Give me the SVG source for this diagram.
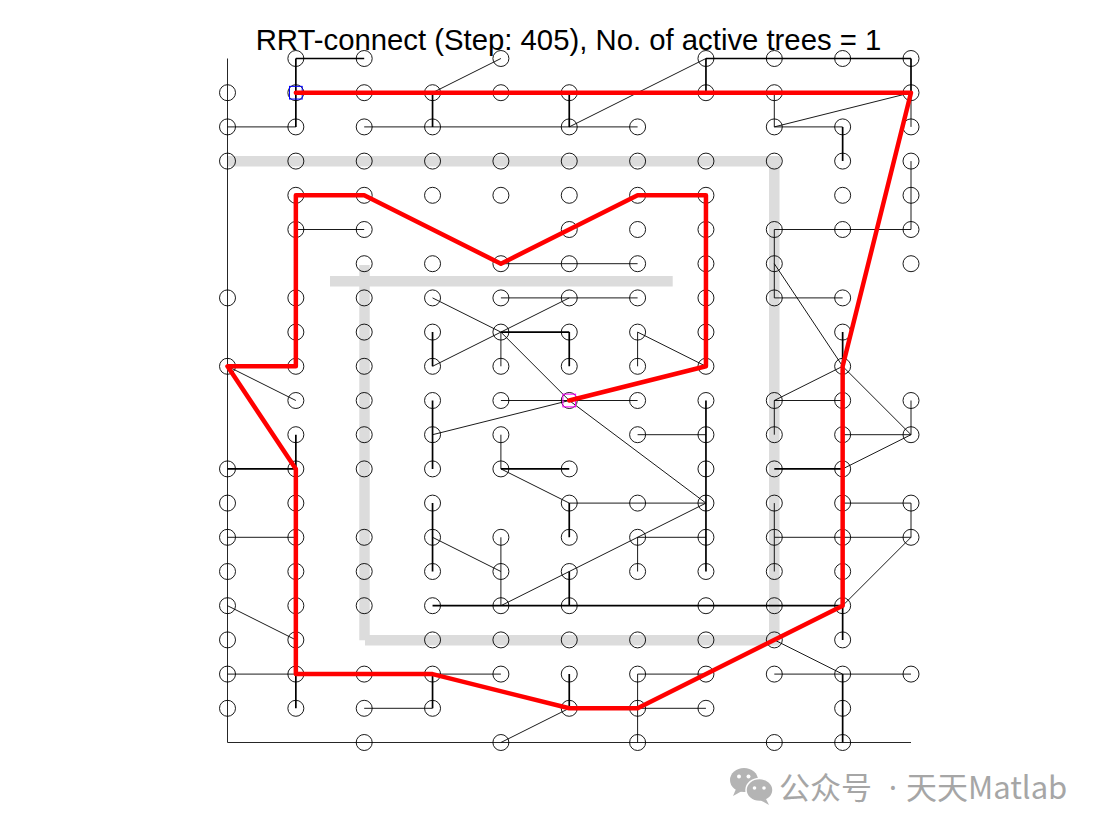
<svg xmlns="http://www.w3.org/2000/svg" width="1105" height="831" viewBox="0 0 1105 831">
<style>
.obs{stroke:#dcdcdc;stroke-width:10.5;fill:none;stroke-linecap:butt}
.ax{stroke:#262626;stroke-width:1;fill:none}
.k{stroke:#000;stroke-width:1.7;fill:none}
.t{stroke:#000;stroke-width:0.9;fill:none}
.nd circle{fill:none;stroke:#000;stroke-width:0.9}
.path{stroke:#ff0000;stroke-width:4.5;fill:none;stroke-linejoin:round;stroke-linecap:round}
.title{font-family:"Liberation Sans",Arial,sans-serif;font-size:29.3px;fill:#000}
.wm{font-family:"Noto Sans CJK SC","Noto Sans",sans-serif;font-size:31px;fill:#a6a6a6}
</style>
<rect width="1105" height="831" fill="#fff"/>
<text class="title" x="568.5" y="50" text-anchor="middle">RRT-connect (Step: 405), No. of active trees = 1</text>
<g id="obstacles">
<line class="obs" x1="228" y1="161.3" x2="781" y2="161.3"/>
<line class="obs" x1="774.3" y1="161.3" x2="774.3" y2="645.3"/>
<line class="obs" x1="365" y1="640.3" x2="779.5" y2="640.3"/>
<line class="obs" x1="364.5" y1="265" x2="364.5" y2="640.3"/>
<line class="obs" x1="330" y1="281.3" x2="672.7" y2="281.3"/>
</g>
<g id="axes">
<line class="ax" x1="227.5" y1="58.5" x2="227.5" y2="742.5"/>
<line class="ax" x1="227.5" y1="742.5" x2="911" y2="742.5"/>
</g>
<g id="connectors">
<path class="k" d="M295.85,58.5H364.2M295.85,58.5V126.9M432.55,92.7V126.9M569.25,92.7V126.9M705.95,58.5V92.7M705.95,58.5H911M911,58.5V92.7M842.65,126.9V161.1M500.9,332.1H569.25M569.25,332.1V366.3M432.55,332.1V366.3M295.85,434.7V468.9M227.5,468.9H295.85M432.55,400.5V468.9M500.9,468.9H569.25M569.25,503.1V537.3M842.65,332.1V366.3M774.3,468.9H842.65M705.95,400.5V571.5M432.55,503.1V571.5M569.25,571.5V605.7M432.55,605.7H842.65M842.65,605.7V639.9M295.85,674.1V708.3M432.55,674.1V708.3M569.25,674.1V708.3M842.65,674.1V742.5"/>
<path class="t" d="M227.5,126.9H295.85M432.55,92.7L500.9,58.5M364.2,126.9H637.6M569.25,126.9L705.95,58.5M774.3,92.7V126.9M774.3,126.9L911,92.7M774.3,126.9H842.65M911,92.7V126.9M911,161.1V229.5M774.3,229.5H911M774.3,229.5V297.9M774.3,263.7L842.65,366.3L911,434.7M295.85,229.5H364.2M500.9,263.7H637.6M432.55,297.9L500.9,332.1L569.25,400.5L705.95,503.1M432.55,366.3L569.25,297.9M500.9,297.9H637.6M500.9,332.1V366.3M637.6,332.1V366.3M637.6,332.1L705.95,366.3M227.5,366.3L295.85,400.5M432.55,434.7L569.25,400.5M500.9,400.5H637.6M637.6,434.7H705.95M500.9,434.7V468.9M500.9,468.9L569.25,503.1H705.95M774.3,297.9H842.65M842.65,366.3L774.3,400.5H842.65M774.3,400.5V434.7M842.65,434.7H911M911,400.5V434.7M911,434.7L842.65,468.9M842.65,503.1H911M911,503.1V537.3M774.3,503.1V537.3M432.55,537.3L500.9,571.5M500.9,537.3V605.7M500.9,605.7L705.95,503.1M637.6,537.3V571.5M637.6,537.3H705.95M774.3,537.3H911M774.3,537.3V571.5M911,537.3L842.65,605.7M227.5,537.3H295.85M227.5,605.7L295.85,639.9M227.5,674.1H295.85M364.2,708.3H432.55M432.55,674.1H500.9M637.6,674.1H705.95M637.6,674.1V742.5M637.6,708.3H705.95M500.9,742.5L569.25,708.3M774.3,639.9L842.65,674.1M774.3,674.1H911"/>
</g>
<g id="nodes" class="nd">
<g id="n1_0"><circle cx="295.85" cy="58.5" r="8"/></g>
<g id="n2_0"><circle cx="364.2" cy="58.5" r="8"/></g>
<g id="n4_0"><circle cx="500.9" cy="58.5" r="8"/></g>
<g id="n7_0"><circle cx="705.95" cy="58.5" r="8"/></g>
<g id="n8_0"><circle cx="774.3" cy="58.5" r="8"/></g>
<g id="n9_0"><circle cx="842.65" cy="58.5" r="8"/></g>
<g id="n10_0"><circle cx="911" cy="58.5" r="8"/></g>
<g id="n0_1"><circle cx="227.5" cy="92.7" r="8"/></g>
<g id="n1_1"><circle cx="295.85" cy="92.7" r="8"/></g>
<g id="n2_1"><circle cx="364.2" cy="92.7" r="8"/></g>
<g id="n3_1"><circle cx="432.55" cy="92.7" r="8"/></g>
<g id="n4_1"><circle cx="500.9" cy="92.7" r="8"/></g>
<g id="n5_1"><circle cx="569.25" cy="92.7" r="8"/></g>
<g id="n7_1"><circle cx="705.95" cy="92.7" r="8"/></g>
<g id="n8_1"><circle cx="774.3" cy="92.7" r="8"/></g>
<g id="n10_1"><circle cx="911" cy="92.7" r="8"/></g>
<g id="n0_2"><circle cx="227.5" cy="126.9" r="8"/></g>
<g id="n1_2"><circle cx="295.85" cy="126.9" r="8"/></g>
<g id="n2_2"><circle cx="364.2" cy="126.9" r="8"/></g>
<g id="n3_2"><circle cx="432.55" cy="126.9" r="8"/></g>
<g id="n5_2"><circle cx="569.25" cy="126.9" r="8"/></g>
<g id="n6_2"><circle cx="637.6" cy="126.9" r="8"/></g>
<g id="n8_2"><circle cx="774.3" cy="126.9" r="8"/></g>
<g id="n9_2"><circle cx="842.65" cy="126.9" r="8"/></g>
<g id="n10_2"><circle cx="911" cy="126.9" r="8"/></g>
<g id="n0_3"><circle cx="227.5" cy="161.1" r="8"/></g>
<g id="n1_3"><circle cx="295.85" cy="161.1" r="8"/></g>
<g id="n2_3"><circle cx="364.2" cy="161.1" r="8"/></g>
<g id="n3_3"><circle cx="432.55" cy="161.1" r="8"/></g>
<g id="n4_3"><circle cx="500.9" cy="161.1" r="8"/></g>
<g id="n5_3"><circle cx="569.25" cy="161.1" r="8"/></g>
<g id="n6_3"><circle cx="637.6" cy="161.1" r="8"/></g>
<g id="n7_3"><circle cx="705.95" cy="161.1" r="8"/></g>
<g id="n8_3"><circle cx="774.3" cy="161.1" r="8"/></g>
<g id="n9_3"><circle cx="842.65" cy="161.1" r="8"/></g>
<g id="n10_3"><circle cx="911" cy="161.1" r="8"/></g>
<g id="n1_4"><circle cx="295.85" cy="195.3" r="8"/></g>
<g id="n2_4"><circle cx="364.2" cy="195.3" r="8"/></g>
<g id="n3_4"><circle cx="432.55" cy="195.3" r="8"/></g>
<g id="n4_4"><circle cx="500.9" cy="195.3" r="8"/></g>
<g id="n5_4"><circle cx="569.25" cy="195.3" r="8"/></g>
<g id="n6_4"><circle cx="637.6" cy="195.3" r="8"/></g>
<g id="n7_4"><circle cx="705.95" cy="195.3" r="8"/></g>
<g id="n9_4"><circle cx="842.65" cy="195.3" r="8"/></g>
<g id="n10_4"><circle cx="911" cy="195.3" r="8"/></g>
<g id="n1_5"><circle cx="295.85" cy="229.5" r="8"/></g>
<g id="n2_5"><circle cx="364.2" cy="229.5" r="8"/></g>
<g id="n5_5"><circle cx="569.25" cy="229.5" r="8"/></g>
<g id="n6_5"><circle cx="637.6" cy="229.5" r="8"/></g>
<g id="n7_5"><circle cx="705.95" cy="229.5" r="8"/></g>
<g id="n8_5"><circle cx="774.3" cy="229.5" r="8"/></g>
<g id="n9_5"><circle cx="842.65" cy="229.5" r="8"/></g>
<g id="n10_5"><circle cx="911" cy="229.5" r="8"/></g>
<g id="n2_6"><circle cx="364.2" cy="263.7" r="8"/></g>
<g id="n3_6"><circle cx="432.55" cy="263.7" r="8"/></g>
<g id="n4_6"><circle cx="500.9" cy="263.7" r="8"/></g>
<g id="n5_6"><circle cx="569.25" cy="263.7" r="8"/></g>
<g id="n6_6"><circle cx="637.6" cy="263.7" r="8"/></g>
<g id="n7_6"><circle cx="705.95" cy="263.7" r="8"/></g>
<g id="n8_6"><circle cx="774.3" cy="263.7" r="8"/></g>
<g id="n10_6"><circle cx="911" cy="263.7" r="8"/></g>
<g id="n0_7"><circle cx="227.5" cy="297.9" r="8"/></g>
<g id="n1_7"><circle cx="295.85" cy="297.9" r="8"/></g>
<g id="n2_7"><circle cx="364.2" cy="297.9" r="8"/></g>
<g id="n3_7"><circle cx="432.55" cy="297.9" r="8"/></g>
<g id="n4_7"><circle cx="500.9" cy="297.9" r="8"/></g>
<g id="n5_7"><circle cx="569.25" cy="297.9" r="8"/></g>
<g id="n6_7"><circle cx="637.6" cy="297.9" r="8"/></g>
<g id="n7_7"><circle cx="705.95" cy="297.9" r="8"/></g>
<g id="n8_7"><circle cx="774.3" cy="297.9" r="8"/></g>
<g id="n9_7"><circle cx="842.65" cy="297.9" r="8"/></g>
<g id="n1_8"><circle cx="295.85" cy="332.1" r="8"/></g>
<g id="n2_8"><circle cx="364.2" cy="332.1" r="8"/></g>
<g id="n3_8"><circle cx="432.55" cy="332.1" r="8"/></g>
<g id="n4_8"><circle cx="500.9" cy="332.1" r="8"/></g>
<g id="n5_8"><circle cx="569.25" cy="332.1" r="8"/></g>
<g id="n6_8"><circle cx="637.6" cy="332.1" r="8"/></g>
<g id="n7_8"><circle cx="705.95" cy="332.1" r="8"/></g>
<g id="n9_8"><circle cx="842.65" cy="332.1" r="8"/></g>
<g id="n0_9"><circle cx="227.5" cy="366.3" r="8"/></g>
<g id="n1_9"><circle cx="295.85" cy="366.3" r="8"/></g>
<g id="n2_9"><circle cx="364.2" cy="366.3" r="8"/></g>
<g id="n3_9"><circle cx="432.55" cy="366.3" r="8"/></g>
<g id="n4_9"><circle cx="500.9" cy="366.3" r="8"/></g>
<g id="n5_9"><circle cx="569.25" cy="366.3" r="8"/></g>
<g id="n6_9"><circle cx="637.6" cy="366.3" r="8"/></g>
<g id="n7_9"><circle cx="705.95" cy="366.3" r="8"/></g>
<g id="n9_9"><circle cx="842.65" cy="366.3" r="8"/></g>
<g id="n1_10"><circle cx="295.85" cy="400.5" r="8"/></g>
<g id="n2_10"><circle cx="364.2" cy="400.5" r="8"/></g>
<g id="n3_10"><circle cx="432.55" cy="400.5" r="8"/></g>
<g id="n4_10"><circle cx="500.9" cy="400.5" r="8"/></g>
<g id="n5_10"><circle cx="569.25" cy="400.5" r="8"/></g>
<g id="n6_10"><circle cx="637.6" cy="400.5" r="8"/></g>
<g id="n7_10"><circle cx="705.95" cy="400.5" r="8"/></g>
<g id="n8_10"><circle cx="774.3" cy="400.5" r="8"/></g>
<g id="n9_10"><circle cx="842.65" cy="400.5" r="8"/></g>
<g id="n10_10"><circle cx="911" cy="400.5" r="8"/></g>
<g id="n1_11"><circle cx="295.85" cy="434.7" r="8"/></g>
<g id="n2_11"><circle cx="364.2" cy="434.7" r="8"/></g>
<g id="n3_11"><circle cx="432.55" cy="434.7" r="8"/></g>
<g id="n4_11"><circle cx="500.9" cy="434.7" r="8"/></g>
<g id="n6_11"><circle cx="637.6" cy="434.7" r="8"/></g>
<g id="n7_11"><circle cx="705.95" cy="434.7" r="8"/></g>
<g id="n8_11"><circle cx="774.3" cy="434.7" r="8"/></g>
<g id="n9_11"><circle cx="842.65" cy="434.7" r="8"/></g>
<g id="n10_11"><circle cx="911" cy="434.7" r="8"/></g>
<g id="n0_12"><circle cx="227.5" cy="468.9" r="8"/></g>
<g id="n1_12"><circle cx="295.85" cy="468.9" r="8"/></g>
<g id="n2_12"><circle cx="364.2" cy="468.9" r="8"/></g>
<g id="n3_12"><circle cx="432.55" cy="468.9" r="8"/></g>
<g id="n4_12"><circle cx="500.9" cy="468.9" r="8"/></g>
<g id="n5_12"><circle cx="569.25" cy="468.9" r="8"/></g>
<g id="n7_12"><circle cx="705.95" cy="468.9" r="8"/></g>
<g id="n8_12"><circle cx="774.3" cy="468.9" r="8"/></g>
<g id="n9_12"><circle cx="842.65" cy="468.9" r="8"/></g>
<g id="n0_13"><circle cx="227.5" cy="503.1" r="8"/></g>
<g id="n1_13"><circle cx="295.85" cy="503.1" r="8"/></g>
<g id="n3_13"><circle cx="432.55" cy="503.1" r="8"/></g>
<g id="n5_13"><circle cx="569.25" cy="503.1" r="8"/></g>
<g id="n6_13"><circle cx="637.6" cy="503.1" r="8"/></g>
<g id="n7_13"><circle cx="705.95" cy="503.1" r="8"/></g>
<g id="n8_13"><circle cx="774.3" cy="503.1" r="8"/></g>
<g id="n9_13"><circle cx="842.65" cy="503.1" r="8"/></g>
<g id="n10_13"><circle cx="911" cy="503.1" r="8"/></g>
<g id="n0_14"><circle cx="227.5" cy="537.3" r="8"/></g>
<g id="n1_14"><circle cx="295.85" cy="537.3" r="8"/></g>
<g id="n2_14"><circle cx="364.2" cy="537.3" r="8"/></g>
<g id="n3_14"><circle cx="432.55" cy="537.3" r="8"/></g>
<g id="n4_14"><circle cx="500.9" cy="537.3" r="8"/></g>
<g id="n5_14"><circle cx="569.25" cy="537.3" r="8"/></g>
<g id="n6_14"><circle cx="637.6" cy="537.3" r="8"/></g>
<g id="n7_14"><circle cx="705.95" cy="537.3" r="8"/></g>
<g id="n8_14"><circle cx="774.3" cy="537.3" r="8"/></g>
<g id="n9_14"><circle cx="842.65" cy="537.3" r="8"/></g>
<g id="n10_14"><circle cx="911" cy="537.3" r="8"/></g>
<g id="n0_15"><circle cx="227.5" cy="571.5" r="8"/></g>
<g id="n1_15"><circle cx="295.85" cy="571.5" r="8"/></g>
<g id="n2_15"><circle cx="364.2" cy="571.5" r="8"/></g>
<g id="n3_15"><circle cx="432.55" cy="571.5" r="8"/></g>
<g id="n4_15"><circle cx="500.9" cy="571.5" r="8"/></g>
<g id="n5_15"><circle cx="569.25" cy="571.5" r="8"/></g>
<g id="n6_15"><circle cx="637.6" cy="571.5" r="8"/></g>
<g id="n7_15"><circle cx="705.95" cy="571.5" r="8"/></g>
<g id="n8_15"><circle cx="774.3" cy="571.5" r="8"/></g>
<g id="n9_15"><circle cx="842.65" cy="571.5" r="8"/></g>
<g id="n0_16"><circle cx="227.5" cy="605.7" r="8"/></g>
<g id="n1_16"><circle cx="295.85" cy="605.7" r="8"/></g>
<g id="n2_16"><circle cx="364.2" cy="605.7" r="8"/></g>
<g id="n3_16"><circle cx="432.55" cy="605.7" r="8"/></g>
<g id="n4_16"><circle cx="500.9" cy="605.7" r="8"/></g>
<g id="n5_16"><circle cx="569.25" cy="605.7" r="8"/></g>
<g id="n7_16"><circle cx="705.95" cy="605.7" r="8"/></g>
<g id="n8_16"><circle cx="774.3" cy="605.7" r="8"/></g>
<g id="n9_16"><circle cx="842.65" cy="605.7" r="8"/></g>
<g id="n0_17"><circle cx="227.5" cy="639.9" r="8"/></g>
<g id="n1_17"><circle cx="295.85" cy="639.9" r="8"/></g>
<g id="n3_17"><circle cx="432.55" cy="639.9" r="8"/></g>
<g id="n4_17"><circle cx="500.9" cy="639.9" r="8"/></g>
<g id="n5_17"><circle cx="569.25" cy="639.9" r="8"/></g>
<g id="n6_17"><circle cx="637.6" cy="639.9" r="8"/></g>
<g id="n7_17"><circle cx="705.95" cy="639.9" r="8"/></g>
<g id="n8_17"><circle cx="774.3" cy="639.9" r="8"/></g>
<g id="n9_17"><circle cx="842.65" cy="639.9" r="8"/></g>
<g id="n0_18"><circle cx="227.5" cy="674.1" r="8"/></g>
<g id="n1_18"><circle cx="295.85" cy="674.1" r="8"/></g>
<g id="n2_18"><circle cx="364.2" cy="674.1" r="8"/></g>
<g id="n3_18"><circle cx="432.55" cy="674.1" r="8"/></g>
<g id="n4_18"><circle cx="500.9" cy="674.1" r="8"/></g>
<g id="n5_18"><circle cx="569.25" cy="674.1" r="8"/></g>
<g id="n6_18"><circle cx="637.6" cy="674.1" r="8"/></g>
<g id="n7_18"><circle cx="705.95" cy="674.1" r="8"/></g>
<g id="n8_18"><circle cx="774.3" cy="674.1" r="8"/></g>
<g id="n9_18"><circle cx="842.65" cy="674.1" r="8"/></g>
<g id="n10_18"><circle cx="911" cy="674.1" r="8"/></g>
<g id="n0_19"><circle cx="227.5" cy="708.3" r="8"/></g>
<g id="n1_19"><circle cx="295.85" cy="708.3" r="8"/></g>
<g id="n2_19"><circle cx="364.2" cy="708.3" r="8"/></g>
<g id="n3_19"><circle cx="432.55" cy="708.3" r="8"/></g>
<g id="n5_19"><circle cx="569.25" cy="708.3" r="8"/></g>
<g id="n6_19"><circle cx="637.6" cy="708.3" r="8"/></g>
<g id="n7_19"><circle cx="705.95" cy="708.3" r="8"/></g>
<g id="n9_19"><circle cx="842.65" cy="708.3" r="8"/></g>
<g id="n2_20"><circle cx="364.2" cy="742.5" r="8"/></g>
<g id="n4_20"><circle cx="500.9" cy="742.5" r="8"/></g>
<g id="n6_20"><circle cx="637.6" cy="742.5" r="8"/></g>
<g id="n8_20"><circle cx="774.3" cy="742.5" r="8"/></g>
<g id="n9_20"><circle cx="842.65" cy="742.5" r="8"/></g>
</g>
<g id="start"><rect x="289.5" y="86.35" width="12.7" height="12.7" fill="none" stroke="#0000ff" stroke-width="1"/></g>
<g id="goal"><rect x="562.9" y="394.15" width="12.7" height="12.7" fill="none" stroke="#ff00ff" stroke-width="1"/></g>
<g id="solution">
<polyline class="path" points="295.85,92.7 911,92.7 842.65,366.3 842.65,605.7 637.6,708.3 569.25,708.3 432.55,674.1 295.85,674.1 295.85,468.9 227.5,366.3 295.85,366.3 295.85,195.3 364.2,195.3 500.9,263.7 637.6,195.3 705.95,195.3 705.95,366.3 569.25,400.5"/>
</g>
<g id="watermark">
<ellipse cx="744" cy="780" rx="14" ry="12" fill="#b4b4b4"/>
<path d="M736,789 L733,796 L742,791 Z" fill="#b4b4b4"/>
<ellipse cx="759.5" cy="790" rx="13.5" ry="11.5" fill="#b4b4b4" stroke="#fff" stroke-width="1.5"/>
<path d="M766,799 L769,805 L760,800 Z" fill="#b4b4b4"/>
<circle cx="739" cy="776.5" r="2" fill="#fff"/>
<circle cx="748.5" cy="776.5" r="2" fill="#fff"/>
<circle cx="754.5" cy="788" r="1.8" fill="#fff"/>
<circle cx="764" cy="788" r="1.8" fill="#fff"/>
<text class="wm" x="779" y="799">公众号</text>
<text class="wm" x="893" y="799" text-anchor="middle" style="font-family:'Noto Sans',sans-serif">·</text>
<text class="wm" x="906" y="799">天天Matlab</text>
</g>
</svg>
